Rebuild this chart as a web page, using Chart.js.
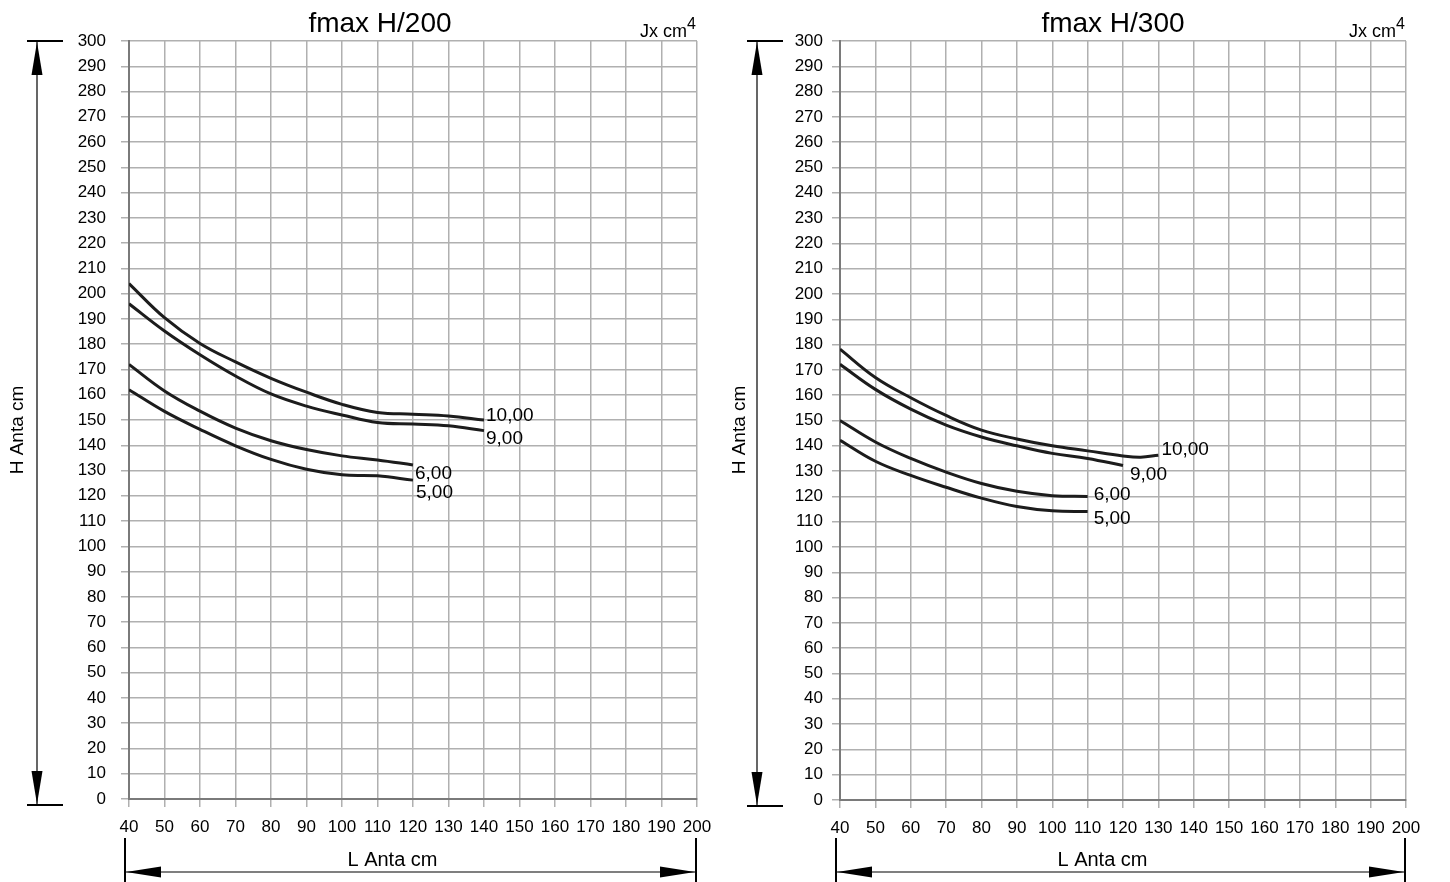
<!DOCTYPE html>
<html>
<head>
<meta charset="utf-8">
<script src="https://cdn.jsdelivr.net/npm/chart.js@4.4.0/dist/chart.umd.min.js"></script>
<style>
  body { margin: 0; background: #fff; }
  #wrap { display: flex; width: 1450px; height: 882px; }
  canvas { display: block; }
</style>
</head>
<body>
<div id="wrap">
  <canvas id="chartH200" width="725" height="882"></canvas>
  <canvas id="chartH300" width="725" height="882"></canvas>
</div>
<script>
// curve labels (Jx cm4)
const curveNames = ["10,00", "9,00", "6,00", "5,00"];

// fmax H/200 : L Anta cm -> H Anta cm
const len200long  = [40, 50, 60, 70, 80, 90, 100, 110, 120, 130, 140];
const len200short = [40, 50, 60, 70, 80, 90, 100, 110, 120];
const h200_10 = [204, 190.5, 180.3, 173, 166.5, 161, 156.2, 153, 152.3, 151.6, 150];
const h200_9  = [196, 185.2, 175.8, 167.4, 160.3, 155.5, 152, 149, 148.4, 147.7, 145.8];
const h200_6  = [172, 161.5, 153.5, 146.8, 141.8, 138.3, 135.8, 134.2, 132.2];
const h200_5  = [162, 153.4, 146.3, 139.8, 134.4, 130.5, 128.3, 127.9, 126.2];

// fmax H/300
const len300_10 = [40, 50, 60, 70, 80, 90, 100, 110, 120, 125, 130];
const len300_9  = [40, 50, 60, 70, 80, 90, 100, 110, 120];
const len300_6  = [40, 50, 60, 70, 80, 90, 100, 110];
const h300_10 = [178.2, 167, 159, 152, 146.2, 142.7, 140, 138, 136, 135.5, 136.3];
const h300_9  = [172.2, 162.3, 154.5, 148.2, 143.5, 140, 137, 135, 132.2];
const h300_6  = [150, 141.5, 135, 129.6, 125.1, 122, 120.3, 120];
const h300_5  = [142.2, 133.9, 128.3, 123.6, 119.3, 116, 114.3, 114];

// axes
const xMin = 40, xMax = 200, xStep = 10;
const yMin = 0, yMax = 300, yStep = 10;

const FONT = "'Liberation Sans', Arial, sans-serif";

function arrowHead(ctx, tipX, tipY, dx, dy, len, half) {
  const bx = tipX - dx * len, by = tipY - dy * len;
  ctx.beginPath();
  ctx.moveTo(tipX, tipY);
  ctx.lineTo(bx - dy * half, by + dx * half);
  ctx.lineTo(bx + dy * half, by - dx * half);
  ctx.closePath();
  ctx.fill();
}

function decorPlugin(setup) {
  return {
    id: 'decor',
    afterDatasetsDraw(chart) {
      const ctx = chart.ctx;
      ctx.save();
      ctx.fillStyle = '#000';
      ctx.font = '19px ' + FONT;
      ctx.textAlign = 'left';
      ctx.textBaseline = 'alphabetic';
      chart.data.datasets.forEach((ds, i) => {
        const pts = chart.getDatasetMeta(i).data;
        const last = pts[pts.length - 1];
        const n = setup.nudge[i];
        ctx.fillText(ds.label, last.x + n[0], last.y + n[1]);
      });
      ctx.restore();
    },
    afterDraw(chart) {
      const ctx = chart.ctx;
      const a = chart.chartArea;
      ctx.save();
      ctx.fillStyle = '#000';
      ctx.strokeStyle = '#000';

      // title
      ctx.font = '28px ' + FONT;
      ctx.textAlign = 'center';
      ctx.textBaseline = 'alphabetic';
      ctx.fillText(setup.title, setup.titleX, 32);

      // Jx cm4
      ctx.textAlign = 'right';
      ctx.font = '16px ' + FONT;
      const supW = ctx.measureText('4').width;
      ctx.fillText('4', a.right - 1, 29);
      ctx.font = '18px ' + FONT;
      ctx.fillText('Jx cm', a.right - 1 - supW, 37);

      // vertical dimension (H)
      const vx = setup.dimX;
      const vBottom = a.bottom + 6;
      ctx.lineWidth = 1.2;
      ctx.beginPath();
      ctx.moveTo(vx, a.top); ctx.lineTo(vx, vBottom);
      ctx.stroke();
      ctx.lineWidth = 2;
      ctx.beginPath();
      ctx.moveTo(vx - 10, a.top); ctx.lineTo(vx + 26, a.top);
      ctx.moveTo(vx - 10, vBottom); ctx.lineTo(vx + 26, vBottom);
      ctx.stroke();
      arrowHead(ctx, vx, a.top + 1, 0, -1, 33, 5.5);
      arrowHead(ctx, vx, vBottom - 1, 0, 1, 33, 5.5);

      // H Anta cm
      ctx.save();
      ctx.translate(setup.yTitleX, 430);
      ctx.rotate(-Math.PI / 2);
      ctx.font = '19px ' + FONT;
      ctx.textAlign = 'center';
      ctx.textBaseline = 'middle';
      ctx.fillText('H Anta cm', 0, 0);
      ctx.restore();

      // horizontal dimension (L)
      const hl = a.left - 4, hr = a.right - 1, hy = 872;
      ctx.lineWidth = 2;
      ctx.beginPath();
      ctx.moveTo(hl, 838); ctx.lineTo(hl, chart.height);
      ctx.moveTo(hr, 838); ctx.lineTo(hr, chart.height);
      ctx.stroke();
      ctx.lineWidth = 1.2;
      ctx.beginPath();
      ctx.moveTo(hl, hy); ctx.lineTo(hr, hy);
      ctx.stroke();
      arrowHead(ctx, hl + 1, hy, -1, 0, 35, 5.5);
      arrowHead(ctx, hr - 1, hy, 1, 0, 35, 5.5);
      ctx.font = '20px ' + FONT;
      ctx.textAlign = 'center';
      ctx.textBaseline = 'alphabetic';
      ctx.fillText('L Anta cm', (hl + hr) / 2 - 18, 866);

      ctx.restore();
    }
  };
}

function makeChart(id, series, setup) {
  return new Chart(document.getElementById(id), {
    type: 'line',
    data: {
      datasets: series.map(s => ({
        label: s.name,
        data: s.x.map((x, i) => ({ x: x, y: s.y[i] })),
        borderColor: '#1c1c1c',
        borderWidth: 3,
        pointRadius: 0,
        fill: false,
        tension: 0.4
      }))
    },
    options: {
      responsive: false,
      animation: false,
      layout: { padding: { left: 0, right: setup.padRight, top: 41, bottom: 0 } },
      plugins: { legend: { display: false }, tooltip: { enabled: false } },
      scales: {
        x: {
          type: 'linear', min: xMin, max: xMax,
          ticks: { stepSize: xStep, autoSkip: false, maxRotation: 0, color: '#000',
                   font: { family: FONT, size: 17 }, padding: 10 },
          grid: { color: '#b0b0b0', lineWidth: 1.5, tickLength: 8 },
          border: { color: '#7a7a7a', width: 2 },
          afterFit: s => { s.height = setup.xHeight; }
        },
        y: {
          type: 'linear', min: yMin, max: yMax,
          ticks: { stepSize: yStep, autoSkip: false, color: '#000',
                   font: { family: FONT, size: 17 }, padding: setup.yPad },
          grid: { color: '#b0b0b0', lineWidth: 1.5, tickLength: 8 },
          border: { color: '#7a7a7a', width: 2 },
          afterFit: s => { s.width = setup.yWidth; }
        }
      }
    },
    plugins: [decorPlugin(setup)]
  });
}

makeChart('chartH200', [
  { name: curveNames[0], x: len200long,  y: h200_10 },
  { name: curveNames[1], x: len200long,  y: h200_9 },
  { name: curveNames[2], x: len200short, y: h200_6 },
  { name: curveNames[3], x: len200short, y: h200_5 }
], {
  title: 'fmax H/200', titleX: 380, dimX: 37, yTitleX: 18,
  yWidth: 129, padRight: 28, xHeight: 83, yPad: 15,
  nudge: [[2, 1], [2, 13], [2, 14], [3, 18]]
});

makeChart('chartH300', [
  { name: curveNames[0], x: len300_10, y: h300_10 },
  { name: curveNames[1], x: len300_9,  y: h300_9 },
  { name: curveNames[2], x: len300_6,  y: h300_6 },
  { name: curveNames[3], x: len300_6,  y: h300_5 }
], {
  title: 'fmax H/300', titleX: 388, dimX: 32, yTitleX: 15,
  yWidth: 115, padRight: 44, xHeight: 82, yPad: 9,
  nudge: [[3, 0], [7, 14], [6, 4], [6, 12]]
});
</script>
</body>
</html>
